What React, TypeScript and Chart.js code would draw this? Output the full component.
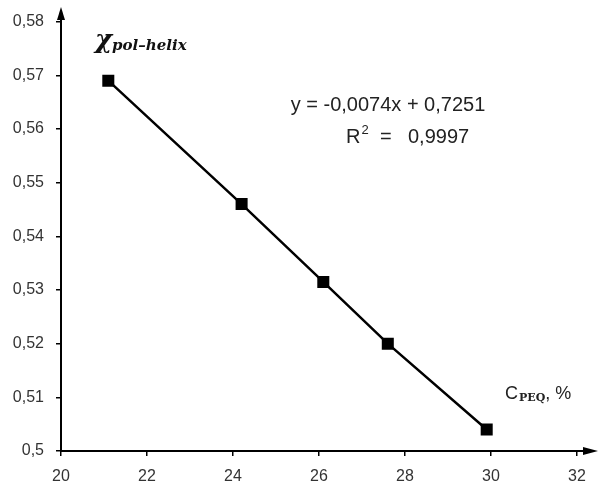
import React, { useEffect, useRef } from "react";
import { Chart, registerables } from "chart.js";

Chart.register(...registerables);

const xValues = [21.1, 24.2, 26.1, 27.6, 29.9];
const yValues = [0.569, 0.546, 0.5315, 0.52, 0.504];
const xTicks = [20, 22, 24, 26, 28, 30, 32];
const yTicks = [0.5, 0.51, 0.52, 0.53, 0.54, 0.55, 0.56, 0.57, 0.58];
const equationText = "y = -0,0074x + 0,7251";
const r2Value = "0,9997";
const titleMain = "χ";
const titleSub = "pol–helix";
const xLabelMain = "C";
const xLabelSub = "PEQ";
const xLabelTail = ", %";

const fmt = (v: number) => String(Number(v.toFixed(2))).replace(".", ",");

const decorPlugin = {
  id: "decor",
  afterDraw(chart: any) {
    const ctx = chart.ctx as CanvasRenderingContext2D;
    const a = chart.chartArea;
    ctx.save();
    ctx.strokeStyle = "#000";
    ctx.fillStyle = "#000";
    ctx.lineWidth = 2;
    // y axis extension + arrow
    ctx.beginPath();
    ctx.moveTo(a.left, a.top);
    ctx.lineTo(a.left, 14);
    ctx.stroke();
    ctx.beginPath();
    ctx.moveTo(a.left, 7);
    ctx.lineTo(a.left - 4, 20);
    ctx.lineTo(a.left + 4, 20);
    ctx.closePath();
    ctx.fill();
    // x axis extension + arrow
    ctx.beginPath();
    ctx.moveTo(a.right, a.bottom);
    ctx.lineTo(590, a.bottom);
    ctx.stroke();
    ctx.beginPath();
    ctx.moveTo(598, a.bottom);
    ctx.lineTo(583, a.bottom - 4);
    ctx.lineTo(583, a.bottom + 4);
    ctx.closePath();
    ctx.fill();

    // title chi
    ctx.fillStyle = "#111";
    ctx.textBaseline = "alphabetic";
    ctx.textAlign = "left";
    ctx.font = "italic bold 26px 'DejaVu Serif'";
    ctx.fillText(titleMain, 95, 48);
    const w = ctx.measureText(titleMain).width;
    ctx.font = "italic bold 15px 'DejaVu Serif'";
    ctx.fillText(titleSub, 95 + w, 50);

    // equation
    ctx.fillStyle = "#222";
    ctx.textAlign = "center";
    ctx.textBaseline = "middle";
    ctx.font = "20px 'Liberation Sans'";
    ctx.fillText(equationText, 388, 105);
    // R^2
    ctx.textAlign = "left";
    let x = 346;
    ctx.fillText("R", x, 137);
    x += ctx.measureText("R").width;
    ctx.font = "13px 'Liberation Sans'";
    ctx.fillText("2", x + 1, 130);
    ctx.font = "20px 'Liberation Sans'";
    ctx.fillText("=", 380, 137);
    ctx.fillText(r2Value, 408, 137);

    // x axis label
    ctx.font = "18px 'Liberation Sans'";
    x = 505;
    ctx.fillText(xLabelMain, x, 394);
    x += ctx.measureText(xLabelMain).width + 1;
    ctx.font = "bold 11px 'DejaVu Serif'";
    ctx.fillText(xLabelSub, x, 398);
    x += ctx.measureText(xLabelSub).width;
    ctx.font = "18px 'Liberation Sans'";
    ctx.fillText(xLabelTail, x, 394);
    ctx.restore();
  },
};

export default function App() {
  const ref = useRef<HTMLCanvasElement>(null);
  useEffect(() => {
    if (!ref.current) return;
    const chart = new Chart(ref.current, {
      type: "scatter",
      data: {
        datasets: [
          {
            data: xValues.map((x, i) => ({ x, y: yValues[i] })),
            showLine: true,
            borderColor: "#000",
            borderWidth: 2.5,
            backgroundColor: "#000",
            pointStyle: "rect",
            pointRadius: 8.5,
            pointBorderWidth: 0,
            pointBackgroundColor: "#000",
          },
        ],
      },
      plugins: [decorPlugin],
      options: {
        animation: false,
        responsive: false,
        maintainAspectRatio: false,
        layout: { padding: { top: 18, right: 21, left: 0, bottom: 0 } },
        plugins: { legend: { display: false }, tooltip: { enabled: false } },
        scales: {
          x: {
            type: "linear",
            min: 20,
            max: 32,
            afterBuildTicks: (s: any) => {
              s.ticks = xTicks.map((v) => ({ value: v }));
            },
            afterFit: (s: any) => {
              s.height = 38;
            },
            grid: { display: true, drawOnChartArea: false, drawTicks: true, tickLength: 5, color: "#000", lineWidth: 1.5 },
            border: { display: true, color: "#000", width: 2 },
            ticks: {
              padding: 11,
              color: "#333",
              font: { family: "'Liberation Sans'", size: 16 },
              callback: (v: any) => String(v),
              maxRotation: 0,
            },
          },
          y: {
            type: "linear",
            min: 0.5,
            max: 0.58,
            afterBuildTicks: (s: any) => {
              s.ticks = yTicks.map((v) => ({ value: v }));
            },
            afterFit: (s: any) => {
              s.width = 61;
            },
            grid: { display: true, drawOnChartArea: false, drawTicks: true, tickLength: 5, color: "#000", lineWidth: 1.5 },
            border: { display: true, color: "#000", width: 2 },
            ticks: {
              padding: 12,
              color: "#333",
              font: { family: "'Liberation Sans'", size: 16 },
              callback: (v: any) => fmt(Number(v)),
            },
          },
        },
      },
    });
    return () => chart.destroy();
  }, []);
  return (
    <div style={{ position: "fixed", left: 0, top: 0, width: 598, height: 489, background: "#fff" }}>
      <canvas ref={ref} width={598} height={489} style={{ display: "block", width: 598, height: 489 }} />
    </div>
  );
}
